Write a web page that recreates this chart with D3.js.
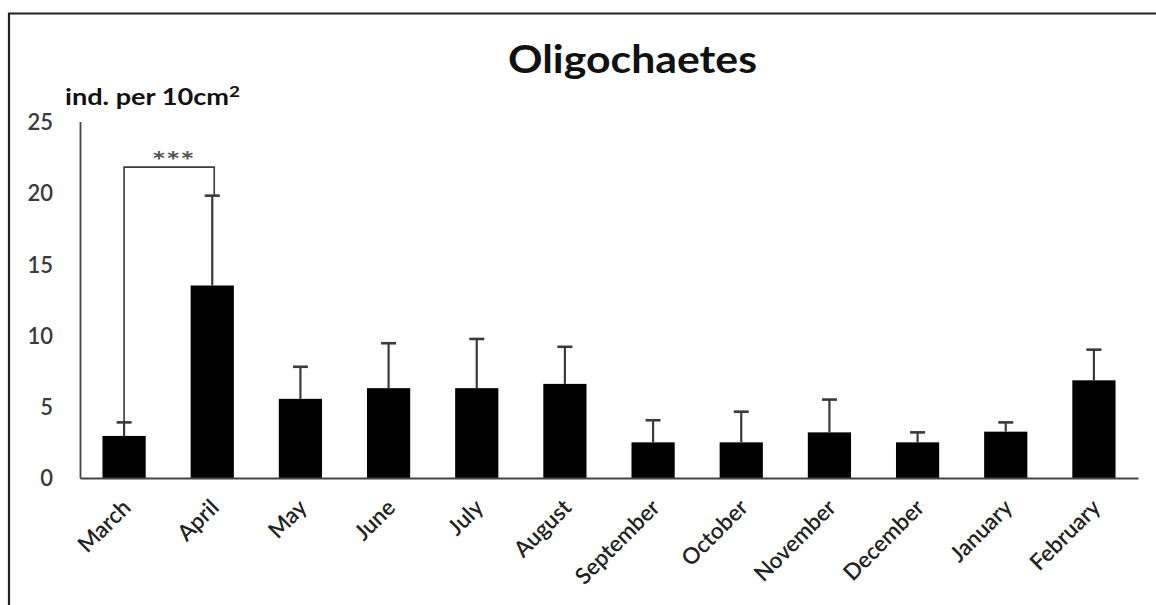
<!DOCTYPE html>
<html>
<head>
<meta charset="utf-8">
<script src="https://cdn.jsdelivr.net/npm/d3@7"></script>
<style>
  html, body { margin: 0; padding: 0; background: #fff; }
  svg { display: block; }
</style>
</head>
<body>
<svg id="chart" width="1156" height="605"></svg>
<script>
// Monthly oligochaete density (mean and standard deviation, ind. per 10 cm²)
const months = ["March", "April", "May", "June", "July", "August",
  "September", "October", "November", "December", "January", "February"];
const means = [2.95, 13.5, 5.55, 6.3, 6.3, 6.6, 2.5, 2.5, 3.2, 2.5, 3.25, 6.85];
const errors = [0.95, 6.3, 2.25, 3.15, 3.45, 2.6, 1.55, 2.15, 2.3, 0.7, 0.65, 2.15];
const yTicks = [0, 5, 10, 15, 20, 25];
// Significant difference between March and April
const sigPair = ["March", "April"];
const sigLevel = 21.8;
const sigLabel = "***";

const svg = d3.select("#chart");
const W = 1156, H = 605;
const plotLeft = 80, plotRight = 1138, plotTop = 121.5, plotBottom = 478;

const x = d3.scaleBand().domain(months).range([plotLeft, plotRight])
  .paddingInner(0.51).paddingOuter(0.255);
const y = d3.scaleLinear().domain([0, 25]).range([plotBottom, plotTop]);

const font = "Lato, 'Open Sans', sans-serif";

// Outer frame (top and left edges)
svg.append("path")
  .attr("d", `M9,${H} L9,13.5 L${W},13.5`)
  .attr("fill", "none").attr("stroke", "#222").attr("stroke-width", 2.2);

// Title
svg.append("text")
  .attr("x", 632.5).attr("y", 73)
  .attr("text-anchor", "middle")
  .attr("font-family", font).attr("font-weight", "bold")
  .attr("font-size", 39).attr("fill", "#111")
  .attr("textLength", 249).attr("lengthAdjust", "spacingAndGlyphs")
  .text("Oligochaetes");

// Unit label
const unit = svg.append("text")
  .attr("x", 65).attr("y", 105)
  .attr("font-family", font).attr("font-weight", "bold")
  .attr("font-size", 23).attr("fill", "#111")
  .attr("textLength", 175).attr("lengthAdjust", "spacingAndGlyphs");
unit.append("tspan").text("ind. per 10cm");
unit.append("tspan").attr("font-size", 16).attr("dy", -8).text("2");

// Bars
svg.append("g").selectAll("rect")
  .data(months)
  .join("rect")
  .attr("x", d => x(d))
  .attr("width", x.bandwidth())
  .attr("y", (d, i) => y(means[i]))
  .attr("height", (d, i) => y(0) - y(means[i]))
  .attr("fill", "#000");

// Error bars (upper whisker only)
const eb = svg.append("g").attr("stroke", "#3a3a3a").attr("stroke-width", 2.2);
months.forEach((m, i) => {
  const cx = x(m) + x.bandwidth() / 2;
  const yTop = y(means[i] + errors[i]);
  eb.append("line").attr("x1", cx).attr("x2", cx)
    .attr("y1", y(means[i])).attr("y2", yTop);
  eb.append("line").attr("x1", cx - 7.5).attr("x2", cx + 7.5)
    .attr("y1", yTop).attr("y2", yTop).attr("stroke-width", 2.6);
});

// Significance bracket
const iA = months.indexOf(sigPair[0]), iB = months.indexOf(sigPair[1]);
const xA = x(sigPair[0]) + x.bandwidth() / 2;
const xB = x(sigPair[1]) + x.bandwidth() / 2 + 2;
svg.append("path")
  .attr("d", `M${xA},${y(means[iA] + errors[iA])} L${xA},${y(sigLevel)} L${xB},${y(sigLevel)} L${xB},${y(means[iB] + errors[iB])}`)
  .attr("fill", "none").attr("stroke", "#3a3a3a").attr("stroke-width", 1.6);
svg.append("text")
  .attr("x", (xA + xB) / 2 + 4).attr("y", y(sigLevel) + 3)
  .attr("text-anchor", "middle")
  .attr("font-family", font).attr("font-weight", "bold")
  .attr("font-size", 24).attr("fill", "#555")
  .attr("textLength", 43).attr("lengthAdjust", "spacingAndGlyphs")
  .text(sigLabel);

// Y axis
const yAxis = svg.append("g")
  .attr("transform", `translate(${plotLeft},0)`)
  .call(d3.axisLeft(y).tickValues(yTicks).tickSize(0).tickSizeOuter(0).tickPadding(27));
yAxis.select(".domain").attr("stroke", "#444").attr("stroke-width", 1.8);
yAxis.selectAll("text")
  .attr("font-family", font).attr("font-size", 22).attr("font-weight", 600)
  .attr("fill", "#3a3a3a")
  .attr("dy", "0.36em");

// X axis
const xAxis = svg.append("g")
  .attr("transform", `translate(0,${plotBottom})`)
  .call(d3.axisBottom(x).tickSize(0).tickSizeOuter(0));
xAxis.select(".domain").attr("stroke", "#444").attr("stroke-width", 1.8);
xAxis.selectAll("text")
  .attr("font-family", font).attr("font-size", 22.5).attr("font-weight", 600)
  .attr("fill", "#222")
  .attr("text-anchor", "end")
  .attr("dy", null).attr("y", 0)
  .attr("transform", "translate(8,31) rotate(-45)");
</script>
</body>
</html>
